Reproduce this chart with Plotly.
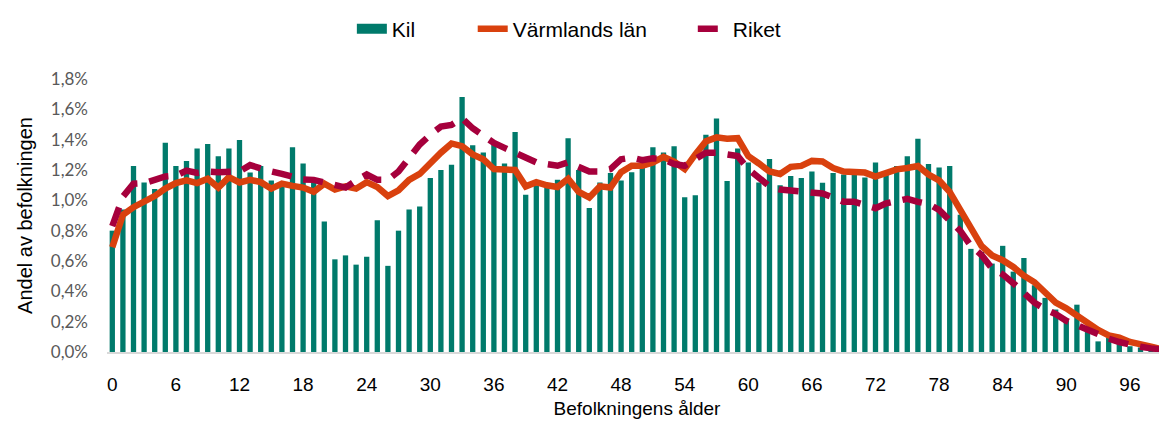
import plotly.graph_objects as go

ages = list(range(100))

kil = [0.80, 0.94, 1.226, 1.118, 1.075, 1.38, 1.226, 1.26, 1.342, 1.372,
       1.29, 1.342, 1.398, 1.183, 1.226, 1.13, 1.10, 1.35, 1.243, 1.13,
       0.86, 0.611, 0.637, 0.576, 0.628, 0.869, 0.568, 0.80, 0.94, 0.959,
       1.148, 1.20, 1.234, 1.682, 1.363, 1.316, 1.368, 1.243, 1.45, 1.037,
       1.10, 1.09, 1.135, 1.41, 1.20, 0.95, 1.118, 1.18, 1.13, 1.185,
       1.22, 1.35, 1.316, 1.357, 1.02, 1.034, 1.432, 1.54, 1.127, 1.342,
       1.25, 1.118, 1.273, 1.10, 1.16, 1.148, 1.19, 1.116, 1.18, 1.17,
       1.17, 1.15, 1.25, 1.17, 1.226, 1.29, 1.406, 1.239, 1.217, 1.226,
       0.905, 0.68, 0.66, 0.583, 0.70, 0.53, 0.62, 0.44, 0.357, 0.28,
       0.206, 0.312, 0.137, 0.07, 0.095, 0.065, 0.038, 0.03, 0.015, 0.01]

varmland = [0.69, 0.905, 0.955, 0.99, 1.028, 1.077, 1.114, 1.131, 1.114, 1.142,
            1.084, 1.153, 1.118, 1.135, 1.12, 1.077, 1.11, 1.095, 1.084, 1.056,
            1.11, 1.071, 1.092, 1.077, 1.12, 1.088, 1.028, 1.066, 1.135, 1.174,
            1.25, 1.314, 1.375, 1.357, 1.303, 1.271, 1.206, 1.206, 1.2, 1.092,
            1.12, 1.099, 1.088, 1.142, 1.056, 1.019, 1.092, 1.084, 1.185, 1.228,
            1.228, 1.25, 1.286, 1.256, 1.206, 1.303, 1.389, 1.415, 1.406, 1.41,
            1.292, 1.243, 1.19, 1.174, 1.221, 1.227, 1.26, 1.256, 1.213, 1.19,
            1.185, 1.183, 1.157, 1.18, 1.204, 1.213, 1.226, 1.17, 1.131, 1.056,
            0.937, 0.808, 0.70, 0.637, 0.605, 0.561, 0.503, 0.46, 0.389, 0.325,
            0.288, 0.239, 0.185, 0.146, 0.11, 0.095, 0.066, 0.045, 0.035, 0.017]

riket = [0.83, 1.024, 1.11, 1.114, 1.135, 1.157, 1.163, 1.196, 1.18, 1.19,
         1.185, 1.185, 1.19, 1.232, 1.206, 1.19, 1.174, 1.153, 1.138, 1.135,
         1.12, 1.103, 1.084, 1.131, 1.17, 1.135, 1.135, 1.19, 1.286, 1.368,
         1.432, 1.486, 1.497, 1.54, 1.475, 1.421, 1.378, 1.346, 1.314, 1.277,
         1.25, 1.239, 1.228, 1.25, 1.217, 1.19, 1.19, 1.206, 1.271, 1.282,
         1.265, 1.277, 1.271, 1.239, 1.228, 1.271, 1.314, 1.314, 1.308, 1.292,
         1.206, 1.142, 1.092, 1.071, 1.066, 1.056, 1.054, 1.045, 1.019, 0.99,
         0.99, 0.97, 0.948, 0.98, 0.998, 1.01, 0.99, 0.976, 0.937, 0.873,
         0.798, 0.70, 0.64, 0.55, 0.512, 0.454, 0.389, 0.325, 0.282, 0.25,
         0.206, 0.174, 0.142, 0.116, 0.088, 0.066, 0.045, 0.034, 0.024, 0.017]

tick_vals = list(range(0, 97, 6))
tick_text = [str(v) for v in tick_vals]

KIL_COLOR = "#007A6B"
NB = "\u00a0"

fig = go.Figure()
fig.add_trace(go.Bar(x=ages, y=[v / 100 for v in kil], name="Kil",
                     marker=dict(color=KIL_COLOR, line=dict(width=0)),
                     width=0.5, showlegend=False, legendgroup="kil"))
# legend entry for the bar series drawn as a wide band
fig.add_trace(go.Scatter(x=[None], y=[None], name="Kil" + NB * 9, mode="lines",
                         line=dict(color=KIL_COLOR, width=12), legendgroup="kil"))
fig.add_trace(go.Scatter(x=ages, y=[v / 100 for v in varmland], name="Värmlands län" + NB * 7,
                         mode="lines", line=dict(color="#D9410E", width=6.5)))
fig.add_trace(go.Scatter(x=ages, y=[v / 100 for v in riket], name="Riket",
                         mode="lines", line=dict(color="#A6003C", width=6.5, dash="20px,12px")))

fig.update_layout(
    width=1159, height=420,
    margin=dict(l=99, r=0, t=65, b=76),
    paper_bgcolor="white", plot_bgcolor="white",
    separators=", ",
    font=dict(family="Liberation Sans, Arial, sans-serif", size=19, color="#000000"),
    showlegend=True,
    legend=dict(orientation="h", x=0.231, xanchor="left", y=1.183, yanchor="middle",
                font=dict(size=21), traceorder="normal", itemwidth=30),
    bargap=0.5,
)

fig.update_xaxes(
    range=[-0.5, 99.5], tickmode="array", tickvals=tick_vals, ticktext=tick_text,
    showgrid=False, zeroline=False, showline=True, linecolor="#D9D9D9", linewidth=2,
    ticks="", ticklabelstandoff=14, tickfont=dict(size=19, color="#000000"),
    title=dict(text="Befolkningens ålder", font=dict(size=19), standoff=8),
)
fig.update_yaxes(
    range=[0, 0.018], dtick=0.002, tickformat=".1%",
    showgrid=False, zeroline=False, showline=False, ticks="",
    ticklabelstandoff=18, tickfont=dict(family="Lato, Open Sans, sans-serif", size=17, color="#595959"),
    title=dict(text="Andel av befolkningen", font=dict(size=20), standoff=12),
)

fig.write_html("out.html")
